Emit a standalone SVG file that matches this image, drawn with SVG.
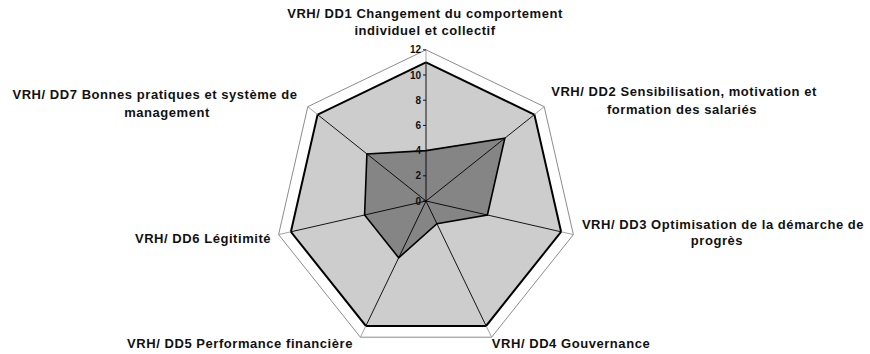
<svg xmlns="http://www.w3.org/2000/svg" width="870" height="354" viewBox="0 0 870 354">
<style>
.lbl{font-family:"Liberation Sans",Arial,sans-serif;font-weight:bold;font-size:13px;letter-spacing:0.55px;fill:#111;text-anchor:middle}
.tick{font-family:"Liberation Sans",Arial,sans-serif;font-weight:bold;font-size:10px;fill:#111;text-anchor:end}
.ring{fill:#fff;stroke:#8c8c8c;stroke-width:1}
.s1{fill:#cdcdcd;stroke:#000;stroke-width:2;stroke-linejoin:miter}
.s2{fill:#858585;stroke:#000;stroke-width:1.6;stroke-linejoin:miter}
.spk{stroke:#000;stroke-width:0.9;fill:none}
.spko{stroke:#999;stroke-width:0.9;fill:none}
</style>
<rect width="870" height="354" fill="#fff"/>
<g id="grid">
<polygon class="ring" points="426,49.8 544.2,106.7 573.4,234.6 491.6,337.2 360.4,337.2 278.6,234.6 307.8,106.7"/>
</g>
<g id="series1">
<polygon class="s1" points="426,62.4 534.4,114.6 561.1,231.8 486.1,325.9 365.9,325.9 290.9,231.8 317.6,114.6"/>
</g>
<g id="series2">
<polygon class="s2" points="426,150.6 504.8,138.2 487.4,215 436.9,223.7 398.7,257.8 364.6,215 366.9,153.9"/>
</g>
<g id="connectors">
<path class="spk" d="M426,201V62.4M426,201L534.4,114.6M426,201L561.1,231.8M426,201L486.1,325.9M426,201L365.9,325.9M426,201L290.9,231.8M426,201L317.6,114.6"/>
<path class="spko" d="M426,62.4V49.8M534.4,114.6L544.2,106.7M561.1,231.8L573.4,234.6M486.1,325.9L491.6,337.2M365.9,325.9L360.4,337.2M290.9,231.8L278.6,234.6M317.6,114.6L307.8,106.7"/>
<path class="spk" d="M423,201h3M423,175.8h3M423,150.6h3M423,125.4h3M423,100.2h3M423,75h3M423,49.8h3"/>
</g>
<g id="ticks">
<text class="tick" x="421" y="204.5">0</text>
<text class="tick" x="421" y="179.3">2</text>
<text class="tick" x="421" y="154.1">4</text>
<text class="tick" x="421" y="128.9">6</text>
<text class="tick" x="421" y="103.7">8</text>
<text class="tick" x="421" y="78.5">10</text>
<text class="tick" x="421" y="53.3">12</text>
</g>
<g id="DD1"><text class="lbl" x="425" y="18">VRH/ DD1 Changement du comportement</text><text class="lbl" x="425" y="35">individuel et collectif</text></g>
<g id="DD2"><text class="lbl" x="684" y="96">VRH/ DD2 Sensibilisation, motivation et</text><text class="lbl" x="682" y="114">formation des salariés</text></g>
<g id="DD3"><text class="lbl" x="723" y="229">VRH/ DD3 Optimisation de la démarche de</text><text class="lbl" x="717" y="245">progrès</text></g>
<g id="DD4"><text class="lbl" x="571" y="348">VRH/ DD4 Gouvernance</text></g>
<g id="DD5"><text class="lbl" x="240" y="348">VRH/ DD5 Performance financière</text></g>
<g id="DD6"><text class="lbl" x="203" y="243">VRH/ DD6 Légitimité</text></g>
<g id="DD7"><text class="lbl" x="155" y="99">VRH/ DD7 Bonnes pratiques et système de</text><text class="lbl" x="167" y="117">management</text></g>
</svg>
